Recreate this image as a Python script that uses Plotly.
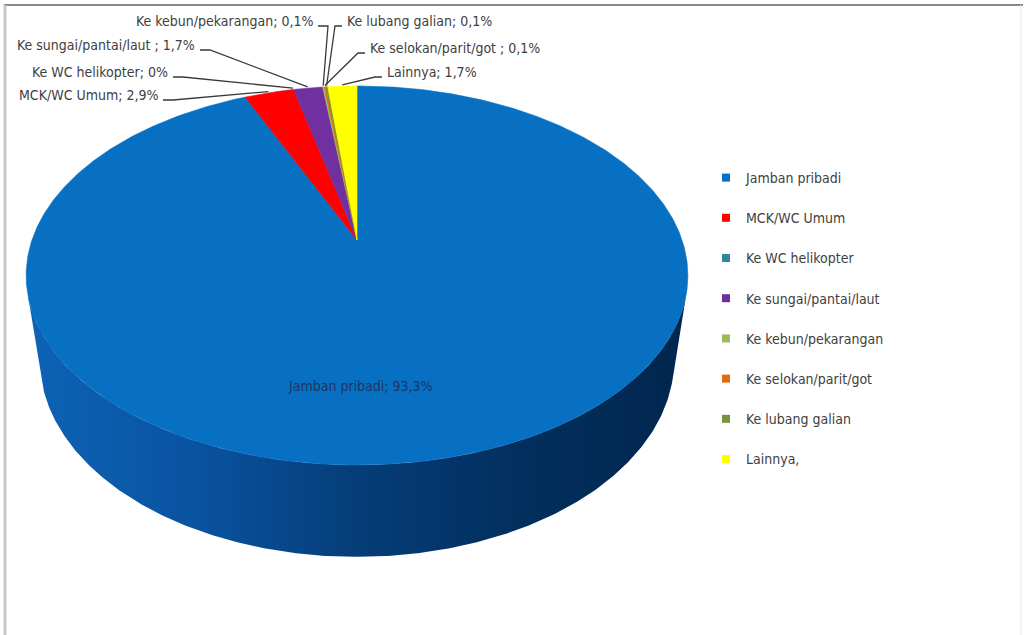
import numpy as np
import plotly.graph_objects as go

# Sanitation facility shares (percent)
categories = ["Jamban pribadi", "MCK/WC Umum", "Ke WC helikopter", "Ke sungai/pantai/laut ",
              "Ke kebun/pekarangan", "Ke selokan/parit/got ", "Ke lubang galian", "Lainnya"]
legend_names = ["Jamban pribadi", "MCK/WC Umum", "Ke WC helikopter", "Ke sungai/pantai/laut",
                "Ke kebun/pekarangan", "Ke selokan/parit/got", "Ke lubang galian", "Lainnya,"]
values = [93.3, 2.9, 0.0, 1.7, 0.1, 0.1, 0.1, 1.7]
colors = ["#0870c2", "#ff0000", "#31859c", "#7030a0", "#9bbb59", "#e46c0a", "#77933c", "#ffff00"]

# Label placement for the outside data labels: (x, y, anchor)
label_pos = {
    1: (160, 95, "right"),
    2: (170, 72, "right"),
    3: (197, 45, "right"),
    4: (315, 21, "right"),
    5: (368, 48, "left"),
    6: (345, 21, "left"),
    7: (385, 72, "left"),
}

W, H = 1027, 635
FONT = "Liberation Sans Narrow, DejaVu Sans Condensed, Arial Narrow, sans-serif"
TXT = "#404040"

# Perspective camera for the 3-D disc
CX, CY = 357.0, 240.0
F = 1435.0
D = 4.415
SIN_A = 0.5626
COS_A = np.sqrt(1 - SIN_A ** 2)
THICK = 0.327


def proj(psi_deg, r=1.0, h=0.0):
    psi = np.radians(psi_deg)
    x = r * np.sin(psi)
    z = r * np.cos(psi)
    w = D + z * COS_A - h * SIN_A
    v = h * COS_A + z * SIN_A
    return CX + F * x / w, CY - F * v / w


def arc(a0, a1, r=1.0, h=0.0):
    n = max(2, int(abs(a1 - a0) / 0.5) + 2)
    return proj(np.linspace(a0, a1, n), r, h)


total = sum(values)
ends = np.cumsum(values) / total * 360.0
starts = np.concatenate([[0.0], ends[:-1]])

fig = go.Figure()

# Visible outer wall: where the rim faces the camera
psi_v = np.degrees(np.arccos(-1.0 / (D * COS_A)))
vis_lo, vis_hi = psi_v, 360.0 - psi_v
side_scales = {
    0: [[0, "#0d63b6"], [0.25, "#0a53a1"], [0.5, "#053d78"], [0.75, "#022f5e"], [1, "#01264e"]],
}
for i, (a0, a1) in enumerate(zip(starts, ends)):
    lo, hi = max(a0, vis_lo), min(a1, vis_hi)
    if hi <= lo:
        continue
    tx, ty = arc(lo, hi, 1.0, 0.0)
    bx, by = arc(hi, lo, 1.0, -THICK)
    xs = np.concatenate([tx, bx, tx[:1]])
    ys = np.concatenate([ty, by, ty[:1]])
    scale = side_scales.get(i, [[0, colors[i]], [1, colors[i]]])
    fig.add_trace(go.Scatter(
        x=xs, y=ys, mode="lines", fill="toself",
        fillgradient=dict(type="horizontal", colorscale=scale),
        line=dict(width=0), hoverinfo="skip", showlegend=False))

# Top face slices
for i, (a0, a1) in enumerate(zip(starts, ends)):
    if a1 - a0 <= 0:
        continue
    rx, ry = arc(a0, a1)
    xs = np.concatenate([[CX], rx, [CX]])
    ys = np.concatenate([[CY], ry, [CY]])
    fig.add_trace(go.Scatter(
        x=xs, y=ys, mode="lines", fill="toself", fillcolor=colors[i],
        line=dict(width=0.6, color=colors[i]), hoverinfo="skip", showlegend=False))


def fmt(v):
    return ("%g" % v).replace(".", ",") + "%"


annotations = []
# Leader lines and outside labels
for i, (lx, ly, side) in label_pos.items():
    mid = (starts[i] + ends[i]) / 2.0
    px, py = proj(mid, 1.01)
    if side == "right":
        sx = lx + 3
        shx = sx + 10
    else:
        sx = lx - 3
        shx = sx - 7
    sy = ly + 5
    fig.add_trace(go.Scatter(
        x=[sx, shx, float(px)], y=[sy, sy, float(py)], mode="lines",
        line=dict(color="#3a3a3a", width=1.3), hoverinfo="skip", showlegend=False))
    annotations.append(dict(
        x=lx, y=ly, xref="x", yref="y", text=categories[i] + "; " + fmt(values[i]),
        showarrow=False, xanchor=side, yanchor="middle",
        font=dict(family=FONT, size=14, color=TXT)))

# Label inside the dominant slice
annotations.append(dict(
    x=360, y=386, xref="x", yref="y", text=categories[0] + "; " + fmt(values[0]),
    showarrow=False, xanchor="center", yanchor="middle",
    font=dict(family=FONT, size=14, color="#1c3562")))

# Legend entries
for i, name in enumerate(legend_names):
    fig.add_trace(go.Scatter(
        x=[None], y=[None], mode="markers", name=name, legendgroup=str(i),
        marker=dict(symbol="square", size=8, color=colors[i])))

shapes = [
    dict(type="line", xref="x", yref="y", x0=4, x1=1023, y0=5, y1=5,
         line=dict(color="#8a8a8a", width=2)),
    dict(type="line", xref="x", yref="y", x0=5, x1=5, y0=5, y1=635,
         line=dict(color="#c8c8c8", width=3)),
    dict(type="line", xref="x", yref="y", x0=1021, x1=1021, y0=5, y1=635,
         line=dict(color="#e6e6e6", width=1)),
]

fig.update_layout(
    width=W, height=H, autosize=False,
    margin=dict(l=0, r=0, t=0, b=0),
    paper_bgcolor="white", plot_bgcolor="white",
    xaxis=dict(range=[0, W], visible=False, fixedrange=True),
    yaxis=dict(range=[H, 0], visible=False, fixedrange=True),
    showlegend=True,
    legend=dict(x=706 / W, y=1 - 162 / H, xanchor="left", yanchor="top",
                font=dict(family=FONT, size=14, color=TXT),
                tracegroupgap=19, bgcolor="rgba(0,0,0,0)", itemwidth=30),
    annotations=annotations,
    shapes=shapes,
)

fig.write_html("out.html")
